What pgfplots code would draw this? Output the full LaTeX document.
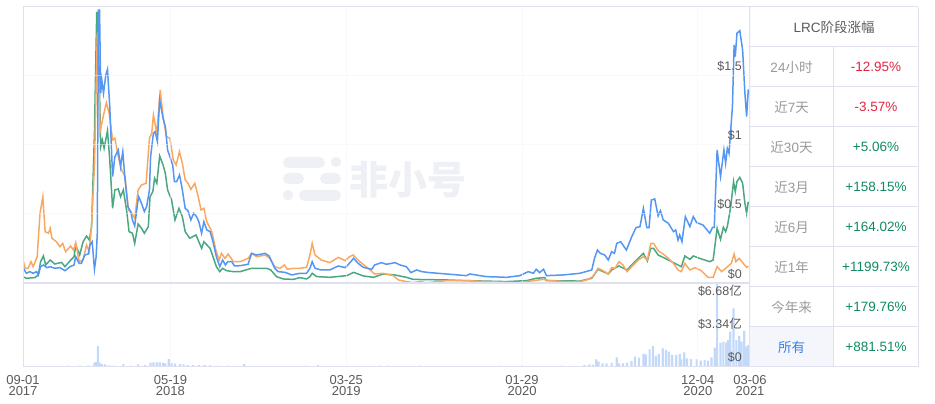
\documentclass[border=0pt]{standalone}
\usepackage{fontspec}
\usepackage{pgfplots}
\pgfplotsset{compat=1.18}
\usepackage{pgfplotstable}
\setmainfont{Liberation Sans}
\newfontfamily\cjk{Noto Sans CJK SC}
\definecolor{cblue}{HTML}{5596F3}
\definecolor{corange}{HTML}{F9A862}
\definecolor{cgreen}{HTML}{4AA781}
\definecolor{cbar}{HTML}{C2D9FA}
\definecolor{cframe}{HTML}{E0E1EF}
\definecolor{cgrid}{HTML}{F3F4F8}
\definecolor{cwm}{HTML}{EEF0F5}
\definecolor{cup}{HTML}{0F8A5F}
\definecolor{cdown}{HTML}{E2233F}
\definecolor{clab}{HTML}{999999}
\definecolor{ctxt}{HTML}{5A5A5A}
\definecolor{clink}{HTML}{3B82F0}
\definecolor{chl}{HTML}{F4F6FB}

\pgfplotstableread{
d v
0 .111
6 .070
12 .082
18 .070
24 .082
27 .058
31 .118
36 .130
42 .111
48 .118
56 .106
65 .111
74 .089
83 .118
90 .130
93 .190
99 .142
103 .142
109 .202
115 .209
118 .274
122 .298
126 .099
129 .190
131 .359
133 1.971
135 1.971
137 1.370
139 1.466
142 1.370
146 1.502
149 1.543
153 1.273
158 .768
162 .912
168 .960
172 .840
176 .948
180 .744
185 .551
190 .515
193 .455
197 .412
202 .575
204 .623
209 .575
214 .515
218 .551
223 .672
225 .912
230 1.081
233 1.093
237 1.021
241 1.321
247 1.189
251 1.129
255 .960
259 .912
264 .852
267 .732
271 .732
276 .780
281 .672
286 .539
291 .522
296 .455
301 .503
306 .479
310 .443
315 .359
319 .443
324 .383
330 .371
335 .298
341 .190
347 .118
352 .166
357 .130
361 .154
368 .154
373 .123
383 .125
397 .135
403 .214
412 .202
427 .214
434 .195
444 .106
450 .082
462 .077
474 .058
488 .070
500 .070
506 .106
510 .154
515 .106
526 .094
541 .094
556 .123
568 .111
573 .130
583 .178
591 .142
600 .113
615 .099
620 .130
632 .147
641 .135
656 .147
665 .130
676 .118
684 .075
694 .094
703 .082
717 .075
747 .065
782 .053
788 .065
817 .046
853 .041
876 .053
891 .082
900 .070
905 .099
911 .075
918 .099
923 .053
952 .058
982 .070
1003 .094
1008 .181
1013 .238
1018 .214
1026 .202
1032 .166
1038 .226
1043 .214
1047 .286
1054 .298
1064 .238
1073 .330
1081 .400
1088 .407
1094 .539
1100 .400
1104 .400
1108 .599
1114 .607
1120 .484
1124 .522
1129 .455
1138 .431
1147 .371
1151 .383
1155 .310
1158 .347
1162 .298
1168 .479
1176 .407
1182 .479
1188 .436
1199 .419
1211 .359
1216 .402
1219 .402
1224 .960
1230 .768
1236 .960
1239 .864
1242 .972
1245 .936
1251 1.273
1254 1.719
1256 1.634
1259 1.803
1264 1.822
1269 1.682
1273 1.370
1276 1.201
1279 1.398
}\blue
\pgfplotstableread{
d v
0 .166
4 .106
9 .106
14 .154
18 .118
25 .190
30 .503
35 .623
39 .371
45 .359
48 .395
51 .323
59 .298
65 .262
70 .286
75 .226
84 .267
89 .238
93 .291
99 .154
106 .166
112 .274
117 .226
121 .431
126 .840
131 1.803
136 1.093
142 1.213
147 1.302
152 1.225
158 1.033
162 1.045
168 .912
174 .816
180 .768
186 .527
192 .503
197 .467
203 .672
209 .708
217 .720
223 1.045
227 1.081
230 1.213
236 1.081
242 1.394
247 1.201
253 1.057
259 1.045
265 .888
270 .852
276 .948
281 .864
286 .744
291 .720
296 .676
303 .720
309 .623
314 .527
319 .539
324 .443
333 .371
340 .238
346 .166
350 .214
356 .178
362 .209
371 .154
383 .154
397 .178
403 .214
412 .190
427 .202
435 .178
444 .118
453 .106
461 .130
466 .099
477 .106
488 .106
500 .113
506 .202
510 .286
515 .202
526 .166
541 .147
556 .185
568 .161
576 .190
582 .202
594 .154
612 .094
620 .065
635 .070
653 .053
662 .022
676 .010
688 .002
700 .010
712 .002
747 .017
782 .017
817 .010
876 .002
900 .017
917 .026
929 .017
958 .010
982 .010
994 .022
1005 .046
1014 .106
1023 .089
1032 .065
1038 .111
1044 .106
1051 .154
1058 .130
1065 .082
1076 .130
1085 .166
1094 .190
1101 .166
1107 .286
1112 .286
1120 .233
1129 .209
1138 .178
1147 .142
1155 .094
1161 .082
1167 .142
1176 .094
1185 .111
1196 .089
1208 .041
1217 .041
1224 .118
1232 .082
1241 .113
1249 .142
1254 .209
1257 .154
1263 .178
1270 .142
1276 .113
1279 .123
}\orange
\pgfplotstableread{
d v
0 .046
6 .034
21 .039
27 .058
31 .154
36 .195
40 .130
48 .166
56 .137
68 .149
74 .118
83 .161
90 .190
93 .274
100 .202
106 .298
112 .339
117 .310
121 .407
126 1.081
130 1.952
132 1.952
137 .984
140 1.033
143 .972
149 1.100
153 .888
158 .539
162 .672
168 .679
172 .623
177 .672
183 .515
187 .371
193 .359
197 .286
203 .426
209 .395
214 .359
221 .407
224 .623
229 .660
232 .756
236 .720
241 .917
247 .852
251 .792
255 .672
262 .599
268 .455
275 .539
281 .479
286 .371
294 .323
305 .347
315 .250
319 .298
330 .250
335 .190
341 .118
347 .082
352 .106
359 .089
371 .082
383 .082
397 .099
403 .106
430 .106
437 .094
447 .046
459 .029
477 .026
488 .039
500 .029
506 .046
510 .070
518 .046
541 .041
571 .053
583 .077
600 .051
618 .041
635 .065
656 .058
676 .041
688 .026
747 .022
782 .017
853 .010
888 .017
905 .034
920 .039
923 .017
982 .014
1003 .034
1014 .099
1023 .082
1032 .065
1038 .094
1051 .123
1065 .094
1079 .154
1094 .214
1101 .159
1107 .250
1112 .250
1120 .202
1138 .166
1155 .130
1161 .118
1167 .195
1176 .171
1182 .195
1193 .178
1211 .154
1217 .166
1224 .395
1230 .315
1235 .402
1239 .371
1242 .407
1248 .551
1253 .732
1256 .660
1259 .732
1264 .763
1269 .720
1273 .575
1276 .503
1279 .587
}\green
\pgfplotstableread{
d v
80 .03
100 .03
115 .04
126 .34
129 .40
132 2.01
135 .34
139 .20
145 .17
152 .06
160 .05
177 .20
190 .04
203 .17
215 .08
225 .34
230 .37
236 .37
241 .37
247 .34
251 .27
257 .70
262 .30
268 .23
277 .20
283 .17
290 .10
300 .10
310 .08
320 .08
330 .06
345 .05
360 .05
390 .20
500 .05
520 .10
630 .05
645 .05
700 .05
840 .04
880 .05
950 .05
990 .10
999 .17
1005 .13
1011 .67
1015 .44
1022 .27
1029 .27
1038 .34
1047 .87
1051 .27
1058 .27
1065 .34
1073 .50
1079 .94
1086 .84
1094 1.21
1098 1.17
1105 1.68
1111 2.01
1116 1.01
1121 1.21
1128 1.78
1134 1.61
1139 1.44
1145 1.11
1152 1.11
1158 1.21
1161 .67
1166 1.37
1171 .77
1178 .70
1188 .67
1195 .54
1202 .60
1208 .54
1214 .87
1220 1.84
1224 8.31
1230 2.35
1235 2.45
1240 2.35
1243 2.61
1247 3.45
1253 5.80
1258 2.61
1263 3.02
1267 2.45
1272 3.55
1276 1.94
1279 2.11
}\vol

\pgfplotsset{
 base/.style={
  axis on top,
  scale only axis, width=727pt, xmin=0, xmax=1282,
  axis line style={draw=none}, major tick length=0pt, clip=true,
  xtick={0,260,570,880,1190,1282},
  xmajorgrids, grid style={cgrid,line width=0.8pt,opacity=0.5},
  yticklabel pos=right,
  yticklabel style={anchor=east,inner sep=0pt,xshift=-8pt,yshift=9pt,font=\fontsize{12.5}{14}\selectfont,text=ctxt},
}}

\begin{document}
\begin{tikzpicture}
\path[use as bounding box] (0pt,0pt) rectangle (935pt,404pt);
% watermark
\begin{scope}[x=1pt,y=-1pt,shift={(0pt,404pt)}]
\fill[cwm,rounded corners=5.4pt] (283,157) rectangle (325,168);
\fill[cwm] (336,162) circle (5.2pt);
\fill[cwm,rounded corners=5.4pt] (283,173) rectangle (304,184);
\fill[cwm,rounded corners=5.4pt] (320,173) rectangle (341,184);
\fill[cwm] (288,195) circle (5.2pt);
\fill[cwm,rounded corners=5.4pt] (299,190) rectangle (341,201);
\node[text=cwm,font=\cjk\bfseries\fontsize{39}{39}\selectfont,inner sep=0pt] at (407.5,179.5) {非小号};
\end{scope}

\begin{axis}[base, at={(23pt,121pt)}, anchor=south west, height=277pt,
  ymin=0, ymax=2, ymajorgrids,
  xticklabels={},
  ytick={0,0.5,1,1.5}, yticklabels={\$0,\$0.5,\$1,\$1.5}]
\addplot[cgreen,line width=1.5pt] table[x=d,y=v] {\green};
\addplot[corange,line width=1.5pt] table[x=d,y=v] {\orange};
\addplot[cblue,line width=1.5pt] table[x=d,y=v] {\blue};
\end{axis}

\begin{axis}[base, at={(23pt,38pt)}, anchor=south west, height=83pt,
  ymin=0, ymax=8.35, ybar, bar width=2.2pt,
  xticklabels={{09-01\\2017},{05-19\\2018},{03-25\\2019},{01-29\\2020},{12-04\\2020},{03-06\\2021}},
  xticklabel style={align=center,inner sep=0pt,yshift=-9pt,text=ctxt,font=\fontsize{13}{11.5}\selectfont},
  ytick={0,3.34,6.68}, yticklabels={\$0,\$3.34{\cjk 亿},\$6.68{\cjk 亿}}]
\addplot[fill=cbar,draw=none] table[x=d,y=v] {\vol};
\end{axis}

% frame and table
\begin{scope}[x=1pt,y=-1pt,shift={(0pt,404pt)}]
\fill[chl] (749.5,326.7) rectangle (833.3,366.7);
\draw[cframe,line width=1pt] (23,6.7) -- (918.3,6.7);
\draw[cframe,line width=1pt] (23,6.7) -- (23,366);
\draw[cframe,line width=1.2pt] (23,283) -- (749.5,283);
\draw[cframe,line width=1pt] (23,366.5) -- (749.5,366.5);
\draw[cframe,line width=1pt] (749.5,6.7) -- (749.5,366.7);
\draw[cframe,line width=1pt] (918.3,6.7) -- (918.3,366.7);
\draw[cframe,line width=1pt] (833.3,46.7) -- (833.3,366.7);
\foreach \r in {46.7,86.7,126.7,166.7,206.7,246.7,286.7,326.7,366.7}
  \draw[cframe,line width=1pt] (749.5,\r) -- (918.3,\r);
\tikzset{cell/.style={inner sep=0pt,font=\fontsize{13.5}{15}\selectfont}}
\node[cell,text=ctxt] at (834,27) {LRC{\cjk 阶段涨幅}};
\node[cell,text=clab] at (791.5,67) {24{\cjk 小时}};
\node[cell,text=clab] at (791.5,107) {{\cjk 近}7{\cjk 天}};
\node[cell,text=clab] at (791.5,147) {{\cjk 近}30{\cjk 天}};
\node[cell,text=clab] at (791.5,187) {{\cjk 近}3{\cjk 月}};
\node[cell,text=clab] at (791.5,227) {{\cjk 近}6{\cjk 月}};
\node[cell,text=clab] at (791.5,267) {{\cjk 近}1{\cjk 年}};
\node[cell,text=clab] at (791.5,307) {{\cjk 今年来}};
\node[cell,text=clink] at (791.5,347) {{\cjk 所有}};
\node[cell,text=cdown] at (876,67) {-12.95\%};
\node[cell,text=cdown] at (876,107) {-3.57\%};
\node[cell,text=cup] at (876,147) {+5.06\%};
\node[cell,text=cup] at (876,187) {+158.15\%};
\node[cell,text=cup] at (876,227) {+164.02\%};
\node[cell,text=cup] at (876,267) {+1199.73\%};
\node[cell,text=cup] at (876,307) {+179.76\%};
\node[cell,text=cup] at (876,347) {+881.51\%};
\end{scope}
\end{tikzpicture}
\end{document}
